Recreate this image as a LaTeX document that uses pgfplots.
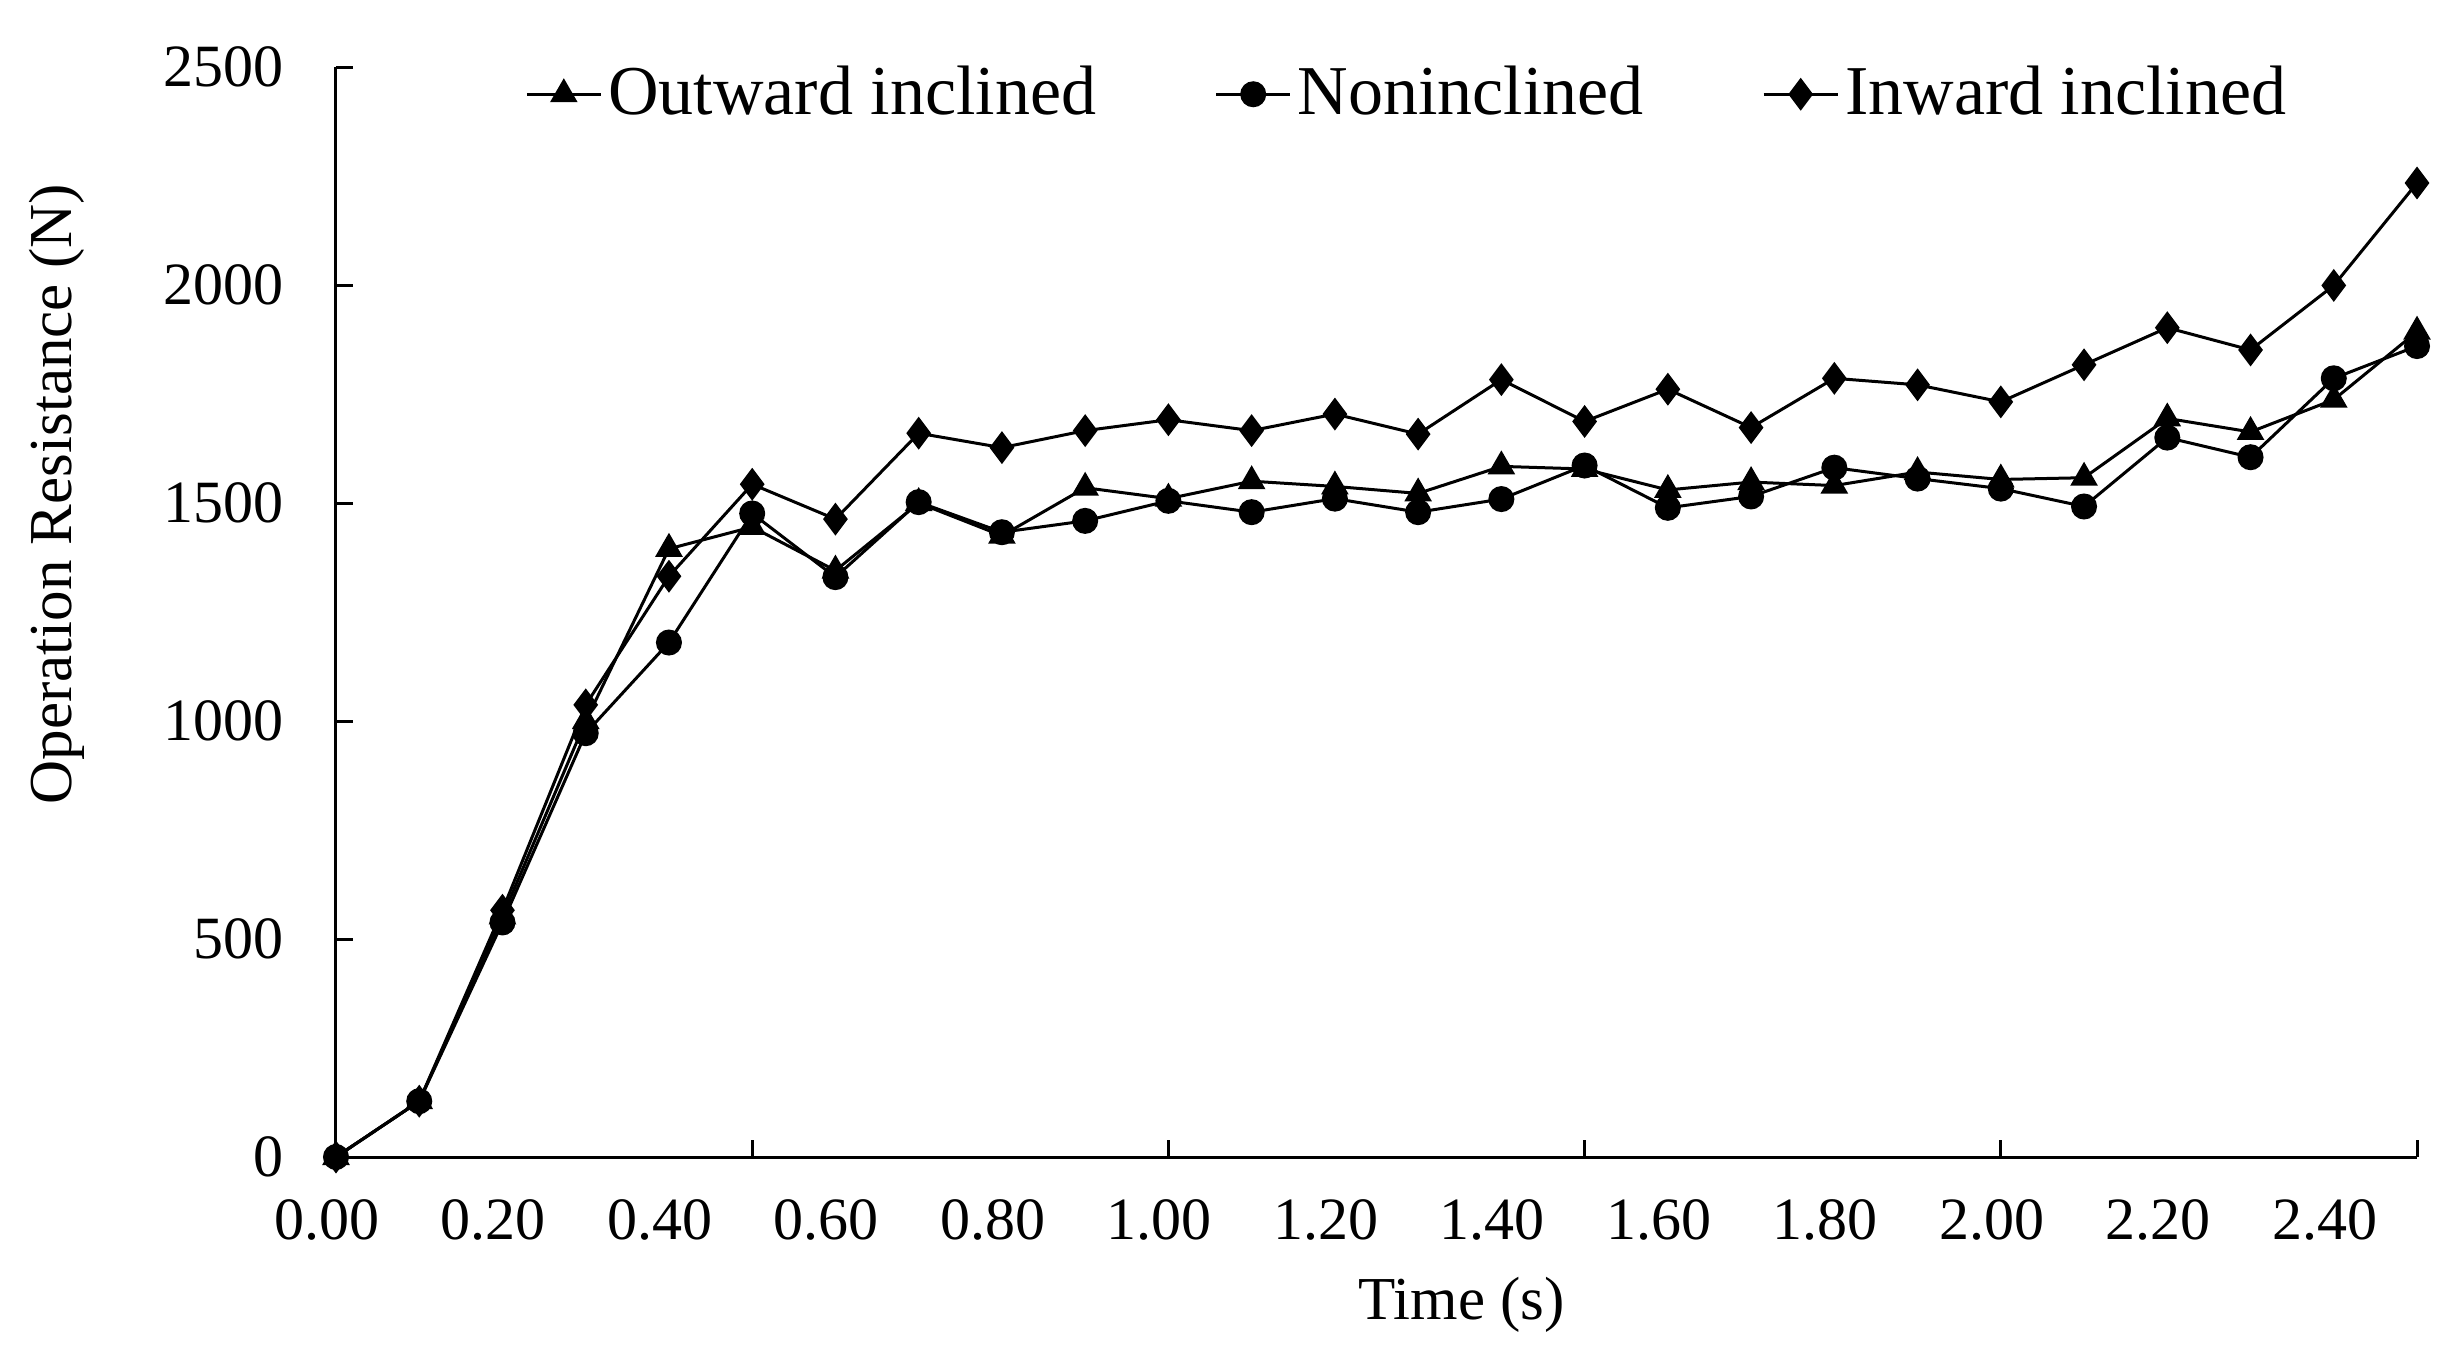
\documentclass[border=0pt]{standalone}
\usepackage{pgfplots}
\pgfplotsset{compat=1.18}
\usepackage{fontspec}
\setmainfont{Liberation Serif}

% operation resistance (N) against time (s)
\pgfplotstableread{
t    outward nonincl inward
0.0  0       0       0
0.1  128     128     128
0.2  552     538     566
0.3  1000    972     1037
0.4  1395    1180    1332
0.5  1445    1476    1543
0.6  1345    1330    1463
0.7  1500    1502    1660
0.8  1425    1433    1627
0.9  1535    1459    1666
1.0  1510    1505    1691
1.1  1550    1479    1666
1.2  1538    1510    1704
1.3  1522    1479    1658
1.4  1584    1509    1783
1.5  1578    1586    1687
1.6  1530    1489    1761
1.7  1548    1515    1673
1.8  1540    1581    1786
1.9  1571    1556    1771
2.0  1554    1533    1732
2.1  1558    1492    1817
2.2  1694    1650    1902
2.3  1663    1605    1851
2.4  1737    1786    1999
2.5  1893    1860    2234
}\resist

\begin{document}
\begin{tikzpicture}
\begin{axis}[
    name=ax,
    scale only axis,
    width=416.2pt, height=218pt,
    xmin=0, xmax=2.5,
    ymin=0, ymax=2500,
    clip=false,
    axis x line*=bottom,
    axis y line*=left,
    axis line style={-, line width=0.6pt},
    tick align=inside,
    major tick length=3.5pt,
    minor tick length=3.5pt,
    every tick/.style={black, line width=0.6pt},
    xtick={0,0.2,0.4,0.6,0.8,1.0,1.2,1.4,1.6,1.8,2.0,2.2,2.4},
    major x tick style={draw=none},
    minor xtick={0.5,1.0,1.5,2.0,2.5},
    xticklabel={\pgfmathprintnumber[fixed,fixed zerofill,precision=2]{\tick}},
    ytick={0,500,1000,1500,2000,2500},
    /pgf/number format/assume math mode=true,
    /pgf/number format/1000 sep={},
    tick label style={font=\fontsize{12}{14}\selectfont},
    xticklabel style={xshift=-1.8pt, yshift=-5pt},
    yticklabel style={xshift=-7pt},
    xlabel={Time (s)},
    ylabel={Operation Resistance (N)},
    every axis x label/.style={at={(rel axis cs:0.541,-0.136)}, anchor=center,
        font=\fontsize{12.2}{14}\selectfont},
    every axis y label/.style={at={(rel axis cs:-0.134,0.608)}, rotate=90, anchor=center,
        font=\fontsize{12.2}{14}\selectfont},
    legend columns=3,
    legend style={at={(rel axis cs:0.0905,0.975)}, anchor=west,
        draw=none, fill=none, inner sep=0pt,
        font=\fontsize{14}{16}\selectfont,
        nodes={inner xsep=1.2pt, inner ysep=0pt},
        /tikz/every even column/.append style={column sep=22.5pt}},
    legend image code/.code={\draw[mark repeat=2,mark phase=2,#1]
        plot coordinates {(0cm,0cm) (0.26cm,0cm) (0.52cm,0cm)};},
    every axis plot/.append style={black, line width=0.6pt},
]
\addplot[mark=triangle*, mark size=2.6pt, mark options={solid, fill=black}]
    table[x=t, y=outward] {\resist};
\addlegendentry{Outward inclined}
\addplot[mark=*, mark size=2.3pt, mark options={solid, fill=black}]
    table[x=t, y=nonincl] {\resist};
\addlegendentry{Noninclined}
\addplot[mark=diamond*, mark size=2.8pt, mark options={solid, fill=black}]
    table[x=t, y=inward] {\resist};
\addlegendentry{Inward inclined}
\end{axis}
\path (ax.south west) ++(-67.2pt,-39.2pt) coordinate (bl);
\path (ax.north east) ++(8.4pt,13.4pt) coordinate (tr);
\path (bl) rectangle (tr);
\end{tikzpicture}
\end{document}
